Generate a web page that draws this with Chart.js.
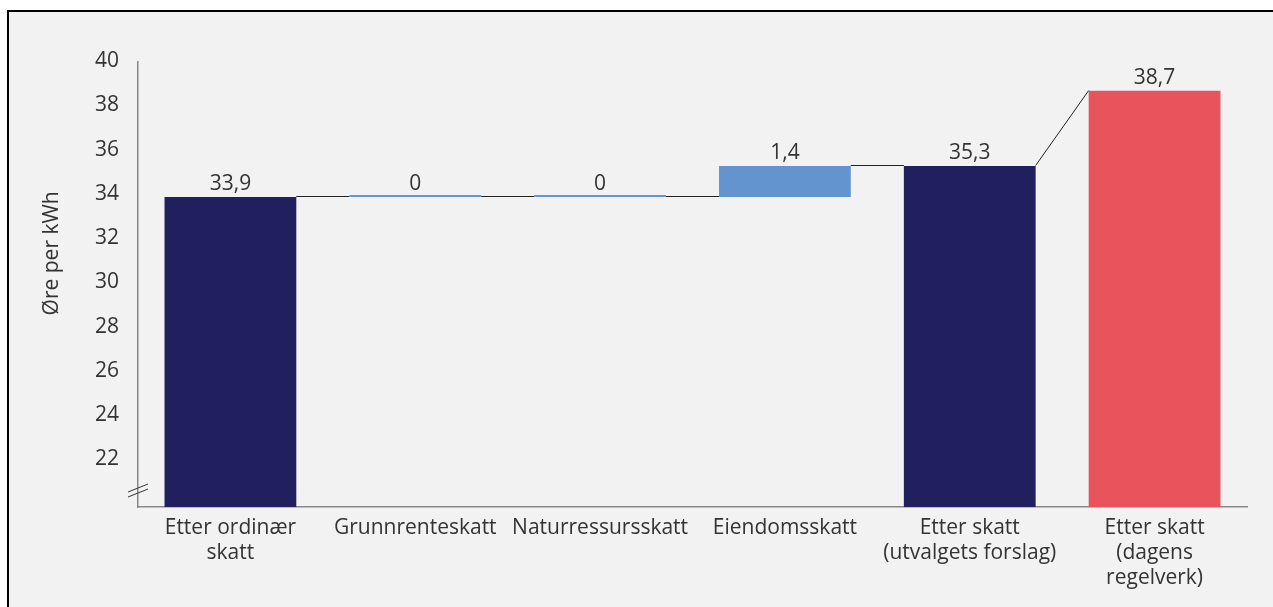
<!DOCTYPE html>
<html>
<head>
<meta charset="utf-8">
<script src="https://cdn.jsdelivr.net/npm/chart.js@4/dist/chart.umd.min.js"></script>
<style>
  html, body { margin: 0; padding: 0; background: #fff; overflow: hidden; }
  #frame {
    position: absolute; left: 7px; top: 10px;
    width: 1266px; height: 597px;
    box-sizing: border-box;
    border-left: 2px solid #000; border-top: 2px solid #000;
    background: #f2f2f2;
  }
  #chart { display: block; }
</style>
</head>
<body>
<div id="frame"><canvas id="chart" width="1264" height="595"></canvas></div>
<script>
const categories = [
  ['Etter ordinær', 'skatt'],
  'Grunnrenteskatt',
  'Naturressursskatt',
  'Eiendomsskatt',
  ['Etter skatt', '(utvalgets forslag)'],
  ['Etter skatt', '(dagens', 'regelverk)']
];
const values = [33.9, 0, 0, 1.4, 35.3, 38.7];
const kinds = ['total', 'delta', 'delta', 'delta', 'total', 'total'];
const colors = ['#211f5e', '#6394cf', '#6394cf', '#6394cf', '#211f5e', '#e9545c'];

const yMin = 19.9;
const yMax = 40;
const textColor = '#333333';
const font = "'Open Sans', 'Noto Sans', sans-serif";
const fontSize = 21;

// running totals -> floating bars
let running = 0;
const ranges = values.map((v, i) => {
  if (kinds[i] === 'total') {
    running = v;
    return [0, v];
  }
  const start = running;
  running += v;
  return [start, running];
});

function fmt(v) {
  return Number.isInteger(v) ? String(v) : v.toFixed(1).replace('.', ',');
}

const waterfallExtras = {
  id: 'waterfallExtras',
  beforeDatasetsDraw(chart) {
    const ctx = chart.ctx;
    const y = chart.scales.y;
    const bars = chart.getDatasetMeta(0).data;
    ctx.save();
    ctx.strokeStyle = '#222';
    ctx.lineWidth = 1;
    for (let i = 0; i < bars.length - 1; i++) {
      const a = bars[i], b = bars[i + 1];
      const endVal = ranges[i][1];
      const nextVal = kinds[i + 1] === 'total' ? ranges[i + 1][1] : ranges[i + 1][0];
      ctx.beginPath();
      ctx.moveTo(a.x + a.width / 2, Math.round(y.getPixelForValue(endVal)) - 0.5);
      ctx.lineTo(b.x - b.width / 2, Math.round(y.getPixelForValue(nextVal)) - 0.5);
      ctx.stroke();
    }
    ctx.restore();
  },
  afterDatasetsDraw(chart) {
    const ctx = chart.ctx;
    const y = chart.scales.y;
    const bars = chart.getDatasetMeta(0).data;
    const area = chart.chartArea;
    ctx.save();
    ctx.fillStyle = textColor;
    ctx.font = fontSize + 'px ' + font;
    ctx.textAlign = 'center';
    ctx.textBaseline = 'alphabetic';
    bars.forEach((bar, i) => {
      const top = y.getPixelForValue(Math.max(ranges[i][0], ranges[i][1]));
      ctx.fillText(fmt(values[i]), bar.x, top - 7);
    });

    // axis title
    ctx.save();
    ctx.translate(43, area.top + (area.bottom - area.top) * 0.43);
    ctx.rotate(-Math.PI / 2);
    ctx.textBaseline = 'middle';
    ctx.fillText('Øre per kWh', 0, 0);
    ctx.restore();

    // axis break marks
    ctx.strokeStyle = '#333';
    ctx.lineWidth = 1;
    const bx = area.left;
    const by = area.bottom - 19;
    [0, 5].forEach(off => {
      ctx.beginPath();
      ctx.moveTo(bx - 10, by + 4 + off);
      ctx.lineTo(bx + 10, by - 4 + off);
      ctx.stroke();
    });
    ctx.restore();
  }
};

new Chart(document.getElementById('chart'), {
  type: 'bar',
  data: {
    labels: categories,
    datasets: [{
      data: ranges,
      backgroundColor: colors,
      borderWidth: 0,
      minBarLength: 2,
      barPercentage: 0.713,
      categoryPercentage: 1
    }]
  },
  options: {
    responsive: false,
    animation: false,
    layout: { padding: { left: 0, right: 26, top: 50, bottom: 0 } },
    plugins: {
      legend: { display: false },
      tooltip: { enabled: false }
    },
    scales: {
      x: {
        grid: { display: false, drawTicks: false },
        border: { display: true, color: '#888', width: 1.5 },
        ticks: {
          color: textColor,
          padding: 8,
          maxRotation: 0,
          autoSkip: false,
          font: { family: font, size: fontSize, lineHeight: 1.2 }
        },
        afterFit(scale) { scale.height = 100; }
      },
      y: {
        min: yMin,
        max: yMax,
        grid: { display: false, drawTicks: false },
        border: { display: true, color: '#888', width: 1.5 },
        ticks: {
          stepSize: 2,
          color: textColor,
          padding: 19,
          labelOffset: -1,
          font: { family: font, size: fontSize },
          callback: v => (v >= 22 && Number.isInteger(v) && v % 2 === 0) ? String(v) : ''
        },
        afterFit(scale) { scale.width = 129; }
      }
    }
  },
  plugins: [waterfallExtras]
});
</script>
</body>
</html>
